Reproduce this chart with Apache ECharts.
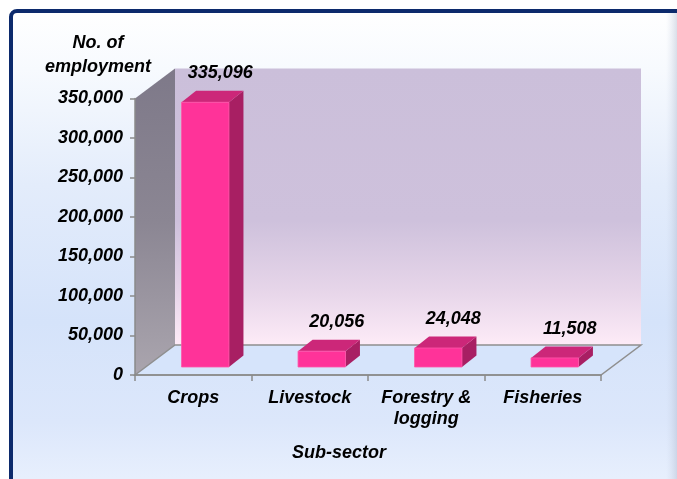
<!DOCTYPE html>
<html>
<head>
<meta charset="utf-8">
<script src="https://cdn.jsdelivr.net/npm/echarts@6/dist/echarts.min.js"></script>
<style>
html,body{margin:0;padding:0;background:#fff;}
#chart{width:677px;height:479px;}
</style>
</head>
<body>
<div id="chart"></div>
<script>
const categories = ['Crops', 'Livestock', 'Forestry &\nlogging', 'Fisheries'];
const employment = [335096, 20056, 24048, 11508];
const yTicks = [0, 50000, 100000, 150000, 200000, 250000, 300000, 350000];
const yAxisTitle = 'No. of\nemployment';
const xAxisTitle = 'Sub-sector';

function fmt(n) {
  return String(n).replace(/\B(?=(\d{3})+(?!\d))/g, ',');
}

const FAM = '"Liberation Sans", Arial, sans-serif';
const FONT = 'italic bold 18px ' + FAM;
const DX = 40, DY = -30;           // wall depth
const BDX = 12, BDY = -8;          // bar front offset
const BDEPX = 14.5, BDEPY = -11.5; // bar depth

const chart = echarts.init(document.getElementById('chart'), null, {renderer: 'canvas'});

const option = {
  backgroundColor: '#ffffff',
  animation: false,
  grid: {left: 135, right: 76, top: 98.5, bottom: 104, containLabel: false},
  xAxis: {
    type: 'category',
    data: categories,
    z: 3,
    axisLine: {lineStyle: {color: '#8a8a8a', width: 1.5}},
    axisTick: {show: true, length: 6, lineStyle: {color: '#8a8a8a', width: 1.5}},
    axisLabel: {
      margin: 13, color: '#000', fontFamily: FAM, fontStyle: 'italic',
      fontWeight: 'bold', fontSize: 18, lineHeight: 21, interval: 0
    },
    splitLine: {show: false}
  },
  yAxis: {
    type: 'value',
    min: yTicks[0],
    max: yTicks[yTicks.length - 1],
    interval: yTicks[1] - yTicks[0],
    z: 3,
    axisLine: {show: true, lineStyle: {color: '#8a8a8a', width: 1.5}},
    axisTick: {show: true, length: 5, lineStyle: {color: '#8a8a8a', width: 1.5}},
    axisLabel: {
      margin: 12, color: '#000', fontFamily: FAM, fontStyle: 'italic',
      fontWeight: 'bold', fontSize: 18, formatter: v => fmt(v)
    },
    splitLine: {show: false}
  },
  graphic: [
    {
      type: 'rect', z: -100,
      shape: {x: 11, y: 11, width: 700, height: 500, r: 6},
      style: {
        fill: {type: 'linear', x: 0, y: 0, x2: 0, y2: 1, colorStops: [
          {offset: 0, color: '#ffffff'},
          {offset: 0.12, color: '#f7fafe'},
          {offset: 0.35, color: '#e3ecfb'},
          {offset: 0.62, color: '#d5e3fa'},
          {offset: 0.82, color: '#dce7fb'},
          {offset: 0.93, color: '#e7effd'},
          {offset: 1, color: '#e9f0fd'}
        ]},
        stroke: '#0c2a6c', lineWidth: 4
      }
    },
    {
      type: 'rect', z: -99,
      shape: {x: 666, y: 13, width: 11, height: 466},
      style: {
        fill: {type: 'linear', x: 0, y: 0, x2: 1, y2: 0, colorStops: [
          {offset: 0, color: 'rgba(200,210,228,0)'},
          {offset: 1, color: 'rgba(175,185,205,0.45)'}
        ]}
      }
    },
    {
      type: 'text', z: 10, x: 98, y: 55,
      style: {text: yAxisTitle, font: FONT, fill: '#000', textAlign: 'center', align: 'center',
        textVerticalAlign: 'middle', verticalAlign: 'middle', lineHeight: 23.7}
    },
    {
      type: 'text', z: 10, x: 339, y: 453,
      style: {text: xAxisTitle, font: FONT, fill: '#000', textAlign: 'center', align: 'center',
        textVerticalAlign: 'middle', verticalAlign: 'middle'}
    }
  ],
  series: [
    {
      // 3D walls and floor, derived from the coordinate system
      type: 'custom',
      z: 1,
      silent: true,
      data: [[0, yTicks[yTicks.length - 1]]],
      renderItem: function (params, api) {
        const cs = params.coordSys;
        const L = cs.x, R = cs.x + cs.width, T = cs.y, B = cs.y + cs.height;
        return {
          type: 'group',
          children: [
            {
              type: 'polygon',
              shape: {points: [[L + DX, T + DY], [R + DX, T + DY], [R + DX, B + DY], [L + DX, B + DY]]},
              style: {
                fill: {type: 'linear', x: 0, y: 0, x2: 0, y2: 1, colorStops: [
                  {offset: 0, color: '#cbbfda'},
                  {offset: 0.55, color: '#cec1dc'},
                  {offset: 0.8, color: '#e6d5e9'},
                  {offset: 1, color: '#fdebf7'}
                ]}
              }
            },
            {
              type: 'polygon',
              shape: {points: [[L, T], [L + DX, T + DY], [L + DX, B + DY], [L, B]]},
              style: {
                fill: {type: 'linear', x: 0, y: 0, x2: 0, y2: 1, colorStops: [
                  {offset: 0, color: '#7e7989'},
                  {offset: 0.5, color: '#8b8693'},
                  {offset: 1, color: '#aaa5ae'}
                ]}
              }
            },
            {
              type: 'polygon',
              shape: {points: [[L, B], [L + DX, B + DY], [R + DX, B + DY], [R, B]]},
              style: {fill: '#d6e4fb', stroke: '#8f8f8f', lineWidth: 1.5}
            }
          ]
        };
      }
    },
    {
      type: 'custom',
      z: 4,
      data: employment.map((v, i) => [i, v]),
      renderItem: function (params, api) {
        const cat = api.value(0), val = api.value(1);
        const p0 = api.coord([cat, 0]);
        const p1 = api.coord([cat, val]);
        const band = api.size([1, 0])[0];
        const w = band * 0.407;
        const xL = p0[0] + BDX - w / 2, xR = xL + w;
        const top = p1[1] + BDY, bot = p0[1] + BDY;
        return {
          type: 'group',
          children: [
            {
              type: 'polygon',
              shape: {points: [[xR, top], [xR + BDEPX, top + BDEPY], [xR + BDEPX, bot + BDEPY], [xR, bot]]},
              style: {fill: '#a81f63'}
            },
            {
              type: 'polygon',
              shape: {points: [[xL, top], [xL + BDEPX, top + BDEPY], [xR + BDEPX, top + BDEPY], [xR, top]]},
              style: {fill: '#cc2779'}
            },
            {
              type: 'rect',
              shape: {x: xL, y: top, width: w, height: bot - top},
              style: {fill: '#ff3399', stroke: '#ff55aa', lineWidth: 0.8}
            },
            {
              type: 'text',
              x: (xL + xR) / 2 + 15,
              y: top - 29,
              style: {text: fmt(val), font: FONT, fill: '#000', textAlign: 'center', align: 'center',
                textVerticalAlign: 'middle', verticalAlign: 'middle'}
            }
          ]
        };
      }
    }
  ]
};
chart.setOption(option);
</script>
</body>
</html>
